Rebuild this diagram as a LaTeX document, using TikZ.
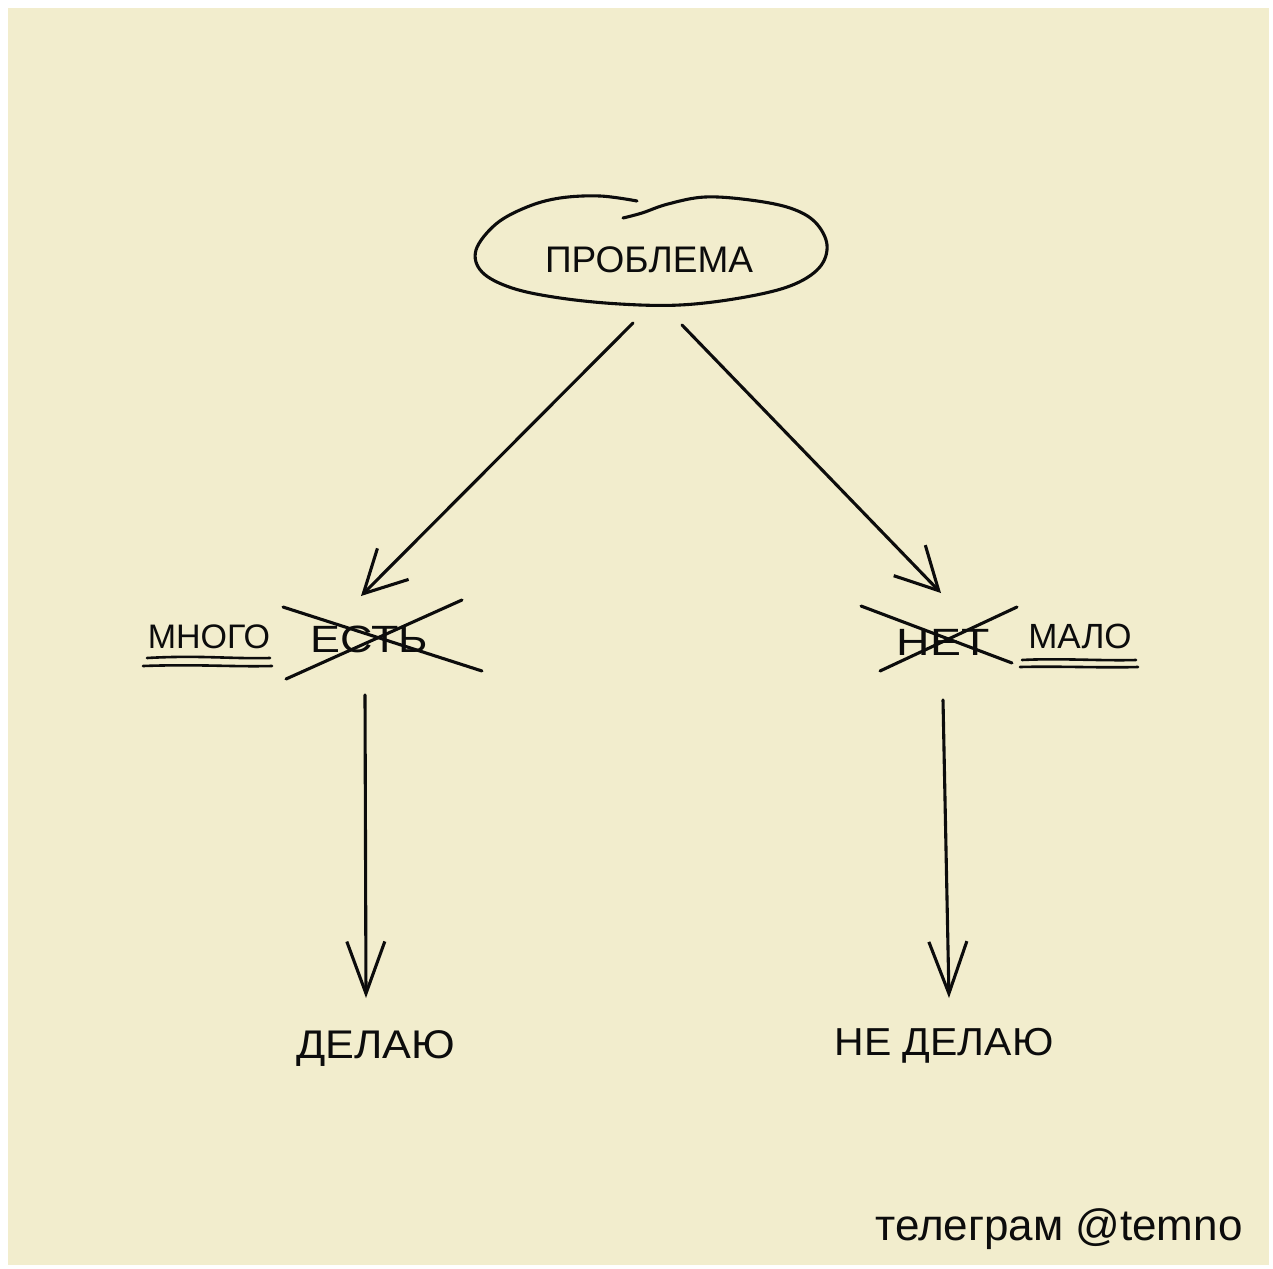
\documentclass[tikz,border=0pt]{standalone}
\usepackage{graphicx}
\usepackage{fontspec}
\setmainfont{Liberation Sans}
\usetikzlibrary{arrows.meta}
\definecolor{paper}{RGB}{242,237,205}
\definecolor{ink}{RGB}{12,12,12}
\tikzset{
  pen/.style={draw=ink, line width=3.1pt, line cap=round, line join=round},
  thin pen/.style={draw=ink, line width=2.6pt, line cap=round},
  darrow/.style={pen, -{Straight Barb[length=42pt,width=44pt,line width=3.1pt]}},
  varrow/.style={pen, -{Straight Barb[length=52pt,width=38pt,line width=3.1pt]}},
  lbl/.style={text=ink, anchor=base, inner sep=0pt},
}
\begin{document}
\begin{tikzpicture}[x=1pt,y=-1pt]
\useasboundingbox (0,0) rectangle (1273,1268);
\fill[white] (0,0) rectangle (1273,1268);
\fill[paper] (8,8) rectangle (1269,1265);

% hand-drawn ellipse
\draw[pen] plot[smooth, tension=0.6] coordinates {
 (637,201) (600,196) (560,198) (527,207) (496,224) (476,250) (482,272)
 (512,288) (560,298) (620,304) (680,305) (740,298) (790,286) (819,268)
 (827,245) (815,222) (790,208) (750,200) (705,197) (668,204) (642,213) (623,218)};

\node[lbl, font=\fontsize{37}{40}\selectfont] (prob) at (649,272) {ПРОБЛЕМА};

\node[lbl, font=\fontsize{34}{38}\selectfont] (mnogo) at (209,648) {МНОГО};
\node[lbl, font=\fontsize{38}{40}\selectfont] (est) at (369,652) {\scalebox{1.18}[1]{ЕСТЬ}};
\node[lbl, font=\fontsize{38}{40}\selectfont] (net) at (943,655) {\scalebox{1.22}[1]{НЕТ}};
\node[lbl, font=\fontsize{35}{38}\selectfont] (malo) at (1080,648) {МАЛО};
\node[lbl, font=\fontsize{40}{42}\selectfont] (delayu) at (376,1058) {\scalebox{1.08}[1]{ДЕЛАЮ}};
\node[lbl, font=\fontsize{39}{42}\selectfont] (nedelayu) at (944,1055) {\scalebox{1.05}[1]{НЕ ДЕЛАЮ}};
\node[lbl, font=\fontsize{44}{46}\selectfont] (tg) at (1059,1240) {телеграм @temno};

% connector ends
\coordinate (pl) at (633,323);
\coordinate (pr) at (682,325);
\coordinate (al) at (361,596);
\coordinate (ar) at (941,593);
\coordinate (bl) at (365,695);
\coordinate (br) at (943,700);
\coordinate (cl) at (366,998);
\coordinate (cr) at (949,998);

\draw[darrow] (pl) -- (al);
\draw[darrow] (pr) -- (ar);
\draw[varrow] (bl) -- (cl);
\draw[varrow] (br) -- (cr);

% crossings out
\draw[pen] (283,607) -- (482,671);
\draw[pen] (286,679) -- (462,600);
\draw[pen] (861,606) -- (1012,663);
\draw[pen] (880,671) -- (1017,607);

% double underlines
\draw[thin pen] (147,658) .. controls (200,655) and (230,659) .. (270,658);
\draw[thin pen] (143,666) .. controls (200,664) and (230,667) .. (272,666);
\draw[thin pen] (1022,660) .. controls (1060,658) and (1100,661) .. (1136,660);
\draw[thin pen] (1020,667) .. controls (1060,666) and (1100,668) .. (1138,667);
\end{tikzpicture}
\end{document}
